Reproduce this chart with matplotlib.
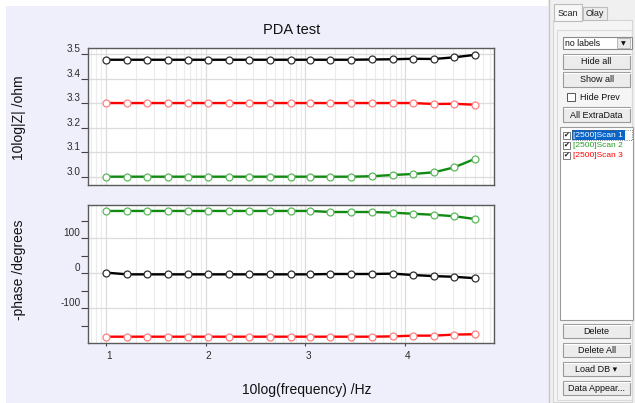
import numpy as np
import matplotlib
matplotlib.use('Agg')
import matplotlib.pyplot as plt
from matplotlib.patches import Rectangle

plt.rcParams['font.family'] = ['Liberation Sans', 'DejaVu Sans']
plt.rcParams['axes.unicode_minus'] = False

# data
log_freq = [1.00, 1.21, 1.41, 1.62, 1.82, 2.02, 2.23, 2.43, 2.64, 2.85,
            3.05, 3.25, 3.46, 3.67, 3.88, 4.08, 4.29, 4.49, 4.70]
logz_scan1 = [3.478] * 13 + [3.479, 3.480, 3.482, 3.481, 3.488, 3.498]
logz_scan2 = [3.000] * 13 + [3.002, 3.007, 3.011, 3.018, 3.038, 3.073]
logz_scan3 = [3.301] * 16 + [3.297, 3.298, 3.294]
phase_scan1 = [2] + [-3] * 10 + [-2, -2, -2, -1, -5, -8, -10, -14]
phase_scan2 = [178] * 11 + [175, 175, 175, 173, 170, 167, 163, 155]
phase_scan3 = [-181] * 14 + [-180, -178, -178, -175, -174]

scan_names = ['[2500]Scan 1', '[2500]Scan 2', '[2500]Scan 3']
line_colors = ['#000000', '#108a10', '#ff0000']
marker_edges = ['#303030', '#5cb85c', '#ff7f7f']
list_text_colors = ['#ffffff', '#1f9e1f', '#ff0000']

W, H = 635, 403
fig = plt.figure(figsize=(W / 100, H / 100), dpi=100)
fig.patch.set_facecolor('white')

# background canvas in pixel coords
bg = fig.add_axes([0, 0, 1, 1])
bg.set_xlim(0, W)
bg.set_ylim(H, 0)
bg.axis('off')
bg.add_patch(Rectangle((6, 6), 542, 397, facecolor='#efeffb', edgecolor='none'))

# side panel
bg.add_patch(Rectangle((548, 0), 87, 403, facecolor='#f0f0f0', edgecolor='none'))
bg.plot([548.5, 548.5], [0, 403], color='#c8c8c8', lw=1)
bg.add_patch(Rectangle((553, 20), 79, 382, facecolor='#f5f5f5', edgecolor='#d4d4d4', lw=0.8))
bg.add_patch(Rectangle((554, 4), 28, 17, facecolor='#f7f7f7', edgecolor='#bcbcbc', lw=0.8))
bg.add_patch(Rectangle((583, 7), 24, 13, facecolor='#ececec', edgecolor='#bcbcbc', lw=0.8))
bg.text(568, 13, 'Scan', fontsize=6.5, ha='center', va='center', color='#222')
bg.text(595, 14, 'Olay', fontsize=6.5, ha='center', va='center', color='#222')
bg.add_patch(Rectangle((557, 30), 75, 370, facecolor='none', edgecolor='#dadada', lw=0.8))

# dropdown
bg.add_patch(Rectangle((563, 37), 69, 12, facecolor='white', edgecolor='#8a8a8a', lw=0.8))
bg.add_patch(Rectangle((617, 38), 13, 10, facecolor='#e8e8e8', edgecolor='#b0b0b0', lw=0.6))
bg.text(565, 43.5, 'no labels', fontsize=6.3, va='center', color='#111')
bg.text(623.5, 43.5, '\u25bc', fontsize=4.5, ha='center', va='center', color='#111',
        family='DejaVu Sans')


def button(y0, y1, label):
    bg.add_patch(Rectangle((563, y0), 67, y1 - y0, facecolor='#ececec',
                           edgecolor='#9a9a9a', lw=0.8))
    bg.plot([563.5, 629.5], [y0 + 0.8, y0 + 0.8], color='white', lw=0.8)
    bg.text(596.5, (y0 + y1) / 2 + 0.5, label, fontsize=6.5, ha='center',
            va='center', color='#111')


button(54, 69, 'Hide all')
button(72, 87, 'Show all')
bg.add_patch(Rectangle((567, 93), 8, 8, facecolor='white', edgecolor='#555', lw=0.7))
bg.text(580, 97.5, 'Hide Prev', fontsize=6.5, va='center', color='#111')
button(107, 122, 'All ExtraData')

# list box
bg.add_patch(Rectangle((560, 127), 73, 193, facecolor='white', edgecolor='#9a9a9a', lw=0.8))
for i, name in enumerate(scan_names):
    yc = 135 + 10 * i
    bg.add_patch(Rectangle((563, yc - 3.5), 7, 7, facecolor='white', edgecolor='#666', lw=0.6))
    bg.text(566.5, yc, '\u2714', fontsize=5, ha='center', va='center', color='#111',
            family='DejaVu Sans')
    if i == 0:
        bg.add_patch(Rectangle((572, yc - 5), 53, 10, facecolor='#0a64c8', edgecolor='none'))
        bg.add_patch(Rectangle((572, yc - 5), 60, 10, facecolor='none', edgecolor='#555',
                               lw=0.6, ls=':'))
    bg.text(573, yc + 0.5, name, fontsize=6.0, va='center', color=list_text_colors[i])

button(324, 338, 'Delete')
button(343, 357, 'Delete All')
button(362, 376, 'Load DB \u25be')
button(381, 395, 'Data Appear...')

# chart titles
bg.text(292, 30, 'PDA test', fontsize=10.5, ha='center', va='center', color='#111')
bg.text(19, 118, '10log|Z| /ohm', fontsize=10, rotation=90, ha='center', va='center', color='#111')
bg.text(19, 270, '-phase /degrees', fontsize=10, rotation=90, ha='center', va='center', color='#111')
bg.text(307, 390, '10log(frequency) /Hz', fontsize=10, ha='center', va='center', color='#111')


def ax_rect(x0, y0, x1, y1):
    return [x0 / W, 1 - y1 / H, (x1 - x0) / W, (y1 - y0) / H]


ax1 = fig.add_axes(ax_rect(88, 48, 494, 185))
ax2 = fig.add_axes(ax_rect(88, 205, 494, 343))

minor_x = [d + np.log10(k) for d in range(0, 5) for k in range(2, 10)]

for ax in (ax1, ax2):
    ax.set_facecolor('white')
    ax.set_xlim(0.82, 4.89)
    for s in ax.spines.values():
        s.set_color('#5a5a5a')
        s.set_linewidth(1)
    ax.set_xticks([1, 2, 3, 4])
    ax.set_xticks([v for v in minor_x if 0.82 < v < 4.89], minor=True)
    ax.grid(True, which='major', axis='both', color='#dcdcdc', lw=0.9, zorder=0)
    ax.grid(True, which='minor', axis='x', color='#ececec', lw=0.8, zorder=0)
    ax.set_axisbelow(True)
    ax.tick_params(axis='x', which='minor', length=0)
    ax.tick_params(axis='y', which='both', direction='out', length=5, width=0.8,
                   color='#444', labelsize=7.2, labelcolor='#2a2a2a', pad=0.5)

ax1.set_ylim(2.966, 3.526)
ax1.set_yticks([3.0, 3.1, 3.2, 3.3, 3.4, 3.5])
ax1.set_yticklabels(['3.0', '3.1', '3.2', '3.3', '3.4', '3.5'])
ax1.tick_params(axis='x', which='both', bottom=False, labelbottom=False)

ax2.set_ylim(-199, 195)
ax2.set_yticks([-100, 0, 100])
ax2.set_yticks([-150, -50, 50, 150], minor=True)
ax2.tick_params(axis='x', which='major', direction='out', length=2.5, width=0.8,
                color='#444', labelsize=7.2, labelcolor='#2a2a2a', pad=3)

for lab in ax1.get_yticklabels() + ax2.get_yticklabels():
    lab.set_verticalalignment('bottom')
for lab in ax2.get_xticklabels():
    lab.set_horizontalalignment('left')

top_series = [logz_scan1, logz_scan2, logz_scan3]
bottom_series = [phase_scan1, phase_scan2, phase_scan3]
for i in range(3):
    for ax, ys in ((ax1, top_series[i]), (ax2, bottom_series[i])):
        ax.plot(log_freq, ys, color=line_colors[i], lw=1.7, marker='o', ms=5,
                mfc='white', mec=marker_edges[i], mew=0.9, zorder=3, clip_on=False)

fig.savefig('out.png', dpi=100)
